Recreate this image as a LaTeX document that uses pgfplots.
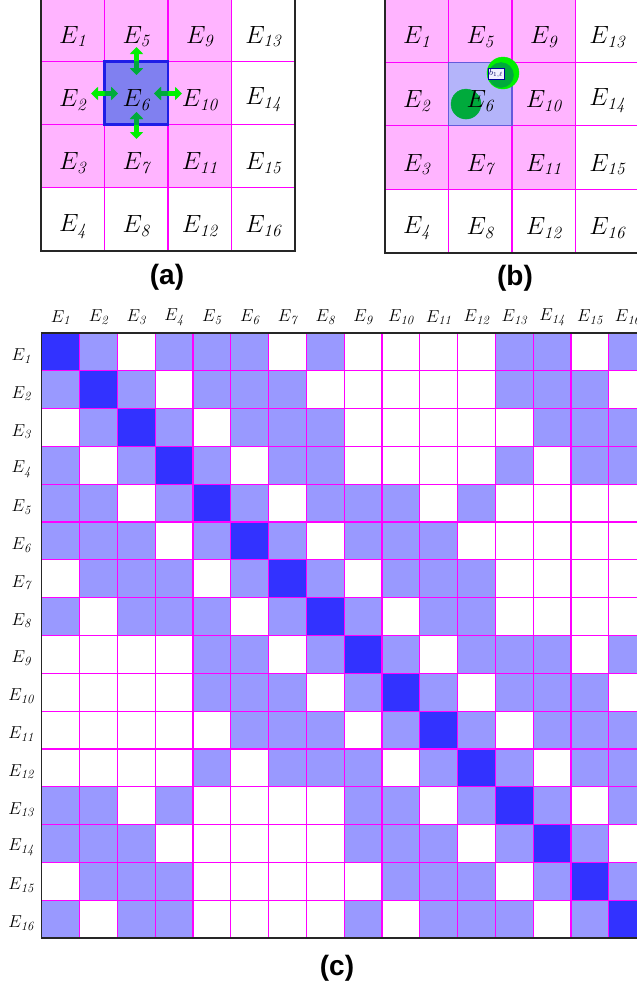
\documentclass[border=0pt]{standalone}
\usepackage{pgfplots}
\pgfplotsset{compat=1.18}
\usepackage{fontspec}
\newfontfamily\labfont{Liberation Sans}
\usetikzlibrary{arrows.meta}
\definecolor{gridm}{RGB}{255,0,255}
\definecolor{aborder}{RGB}{30,30,230}
\definecolor{bborder}{RGB}{100,90,220}
\definecolor{bgreen}{RGB}{0,240,0}
\definecolor{dgreen}{RGB}{0,170,60}
\newcommand{\cellE}[3]{\node[font=\fontsize{24.5}{27}\selectfont, yshift=-7pt] at (axis cs:#1,#2) {$E_{\mathit{#3}}$};}
\newcommand{\allcells}{%
\cellE{1}{1}{1}\cellE{1}{2}{2}\cellE{1}{3}{3}\cellE{1}{4}{4}%
\cellE{2}{1}{5}\cellE{2}{2}{6}\cellE{2}{3}{7}\cellE{2}{4}{8}%
\cellE{3}{1}{9}\cellE{3}{2}{10}\cellE{3}{3}{11}\cellE{3}{4}{12}%
\cellE{4}{1}{13}\cellE{4}{2}{14}\cellE{4}{3}{15}\cellE{4}{4}{16}}
\pgfplotsset{
  smallgrid/.style={
    anchor=south west, scale only axis, width=254pt, height=254pt,
    xmin=0.5, xmax=4.5, ymin=0.5, ymax=4.5, y dir=reverse,
    xtick={1.5,2.5,3.5}, ytick={1.5,2.5,3.5},
    xticklabels={}, yticklabels={},
    grid=major, major grid style={gridm, line width=1.1pt},
    major tick length=0pt, axis on top,
    axis line style={black!85, line width=1.6pt},
    point meta min=0, point meta max=2, clip=false},
  overlay/.style={
    anchor=south west, scale only axis, width=254pt, height=254pt,
    xmin=0.5, xmax=4.5, ymin=0.5, ymax=4.5, y dir=reverse, hide axis, clip=false}
}
\begin{document}
\begin{tikzpicture}
\path[use as bounding box] (0pt,0pt) rectangle (637pt,-996pt);
\clip (0pt,0pt) rectangle (637pt,-996pt);
\fill[white] (0pt,0pt) rectangle (637pt,-996pt);

% ---------------- panel (a)
\begin{axis}[smallgrid, at={(41pt,-251pt)}, height=253pt,
  colormap={pa}{rgb255=(255,255,255) rgb255=(255,180,255) rgb255=(128,128,240)}]
\addplot[matrix plot, mesh/cols=4, point meta=explicit] coordinates {
(1,1)[1] (2,1)[1] (3,1)[1] (4,1)[0]
(1,2)[1] (2,2)[2] (3,2)[1] (4,2)[0]
(1,3)[1] (2,3)[1] (3,3)[1] (4,3)[0]
(1,4)[0] (2,4)[0] (3,4)[0] (4,4)[0]
};
\coordinate (a6sw) at (axis cs:1.5,2.5);
\coordinate (a6ne) at (axis cs:2.5,1.5);
\end{axis}
\draw[aborder, line width=2.8pt] (a6sw) rectangle (a6ne);
\begin{scope}[line width=4.5pt, {Triangle[width=13pt,length=7pt]}-{Triangle[width=13pt,length=7pt]}]
\draw[bgreen] (136.5pt,-47pt) -- (136.5pt,-75pt);
\draw[bgreen] (91pt,-93.5pt) -- (118pt,-93.5pt);
\draw[bgreen] (154pt,-93.5pt) -- (182pt,-93.5pt);
\draw[bgreen] (136.5pt,-112pt) -- (136.5pt,-139pt);
\begin{scope}
\clip (a6sw) rectangle (a6ne);
\draw[dgreen] (136.5pt,-47pt) -- (136.5pt,-75pt);
\draw[dgreen] (91pt,-93.5pt) -- (118pt,-93.5pt);
\draw[dgreen] (154pt,-93.5pt) -- (182pt,-93.5pt);
\draw[dgreen] (136.5pt,-112pt) -- (136.5pt,-139pt);
\end{scope}
\end{scope}
\begin{axis}[overlay, at={(41pt,-251pt)}, height=253pt]
\allcells
\end{axis}

% ---------------- panel (b)
\begin{axis}[smallgrid, at={(385pt,-253pt)}, height=254.5pt,
  colormap={pb}{rgb255=(255,255,255) rgb255=(255,180,255) rgb255=(180,180,250)}]
\addplot[matrix plot, mesh/cols=4, point meta=explicit] coordinates {
(1,1)[1] (2,1)[1] (3,1)[1] (4,1)[0]
(1,2)[1] (2,2)[2] (3,2)[1] (4,2)[0]
(1,3)[1] (2,3)[1] (3,3)[1] (4,3)[0]
(1,4)[0] (2,4)[0] (3,4)[0] (4,4)[0]
};
\coordinate (b6sw) at (axis cs:1.5,2.5);
\coordinate (b6ne) at (axis cs:2.5,1.5);
\end{axis}
\draw[bborder, line width=1.2pt] (b6sw) rectangle (b6ne);
\begin{axis}[overlay, at={(385pt,-253pt)}, height=254.5pt]
\addplot[only marks, mark=*, mark size=15pt, color=dgreen] coordinates {(1.776,2.159)};
\addplot[only marks, mark=*, mark size=16pt, color=bgreen] coordinates {(2.358,1.671)};
\addplot[only marks, mark=*, mark size=12.5pt, color=dgreen] coordinates {(2.327,1.703)};
\end{axis}
\begin{axis}[overlay, at={(385pt,-253pt)}, height=254.5pt]
\allcells
\node[draw=blue!60!black, fill=blue!6, inner sep=1.2pt, line width=0.6pt,
  font=\fontsize{9}{10}\selectfont, text=blue!40!black] at (axis cs:2.248,1.68) {$b_{1,\ell}$};
\end{axis}

% ---------------- panel (c)
\begin{axis}[at={(41.7pt,-938pt)}, anchor=south west, scale only axis,
  width=605pt, height=605pt,
  xmin=0.5, xmax=16.5, ymin=0.5, ymax=16.5, y dir=reverse,
  xtick={1.5,2.5,...,15.5}, ytick={1.5,2.5,...,15.5},
  xticklabels={}, yticklabels={},
  grid=major, major grid style={gridm, line width=1.2pt},
  major tick length=0pt, axis on top,
  axis line style={black!85, line width=1.5pt},
  colormap={pc}{rgb255=(255,255,255) rgb255=(153,153,255) rgb255=(50,50,255)},
  point meta min=0, point meta max=2, clip=false]
\addplot[matrix plot, mesh/cols=16, point meta=explicit] coordinates {
(1,1)[2] (2,1)[1] (3,1)[0] (4,1)[1] (5,1)[1] (6,1)[1] (7,1)[0] (8,1)[1] (9,1)[0] (10,1)[0] (11,1)[0] (12,1)[0] (13,1)[1] (14,1)[1] (15,1)[0] (16,1)[1]
(1,2)[1] (2,2)[2] (3,2)[1] (4,2)[0] (5,2)[1] (6,2)[1] (7,2)[1] (8,2)[0] (9,2)[0] (10,2)[0] (11,2)[0] (12,2)[0] (13,2)[1] (14,2)[1] (15,2)[1] (16,2)[0]
(1,3)[0] (2,3)[1] (3,3)[2] (4,3)[1] (5,3)[0] (6,3)[1] (7,3)[1] (8,3)[1] (9,3)[0] (10,3)[0] (11,3)[0] (12,3)[0] (13,3)[0] (14,3)[1] (15,3)[1] (16,3)[1]
(1,4)[1] (2,4)[0] (3,4)[1] (4,4)[2] (5,4)[1] (6,4)[0] (7,4)[1] (8,4)[1] (9,4)[0] (10,4)[0] (11,4)[0] (12,4)[0] (13,4)[1] (14,4)[0] (15,4)[1] (16,4)[1]
(1,5)[1] (2,5)[1] (3,5)[0] (4,5)[1] (5,5)[2] (6,5)[1] (7,5)[0] (8,5)[1] (9,5)[1] (10,5)[1] (11,5)[0] (12,5)[1] (13,5)[0] (14,5)[0] (15,5)[0] (16,5)[0]
(1,6)[1] (2,6)[1] (3,6)[1] (4,6)[0] (5,6)[1] (6,6)[2] (7,6)[1] (8,6)[0] (9,6)[1] (10,6)[1] (11,6)[1] (12,6)[0] (13,6)[0] (14,6)[0] (15,6)[0] (16,6)[0]
(1,7)[0] (2,7)[1] (3,7)[1] (4,7)[1] (5,7)[0] (6,7)[1] (7,7)[2] (8,7)[1] (9,7)[0] (10,7)[1] (11,7)[1] (12,7)[1] (13,7)[0] (14,7)[0] (15,7)[0] (16,7)[0]
(1,8)[1] (2,8)[0] (3,8)[1] (4,8)[1] (5,8)[1] (6,8)[0] (7,8)[1] (8,8)[2] (9,8)[1] (10,8)[0] (11,8)[1] (12,8)[1] (13,8)[0] (14,8)[0] (15,8)[0] (16,8)[0]
(1,9)[0] (2,9)[0] (3,9)[0] (4,9)[0] (5,9)[1] (6,9)[1] (7,9)[0] (8,9)[1] (9,9)[2] (10,9)[1] (11,9)[0] (12,9)[1] (13,9)[1] (14,9)[1] (15,9)[0] (16,9)[1]
(1,10)[0] (2,10)[0] (3,10)[0] (4,10)[0] (5,10)[1] (6,10)[1] (7,10)[1] (8,10)[0] (9,10)[1] (10,10)[2] (11,10)[1] (12,10)[0] (13,10)[1] (14,10)[1] (15,10)[1] (16,10)[0]
(1,11)[0] (2,11)[0] (3,11)[0] (4,11)[0] (5,11)[0] (6,11)[1] (7,11)[1] (8,11)[1] (9,11)[0] (10,11)[1] (11,11)[2] (12,11)[1] (13,11)[0] (14,11)[1] (15,11)[1] (16,11)[1]
(1,12)[0] (2,12)[0] (3,12)[0] (4,12)[0] (5,12)[1] (6,12)[0] (7,12)[1] (8,12)[1] (9,12)[1] (10,12)[0] (11,12)[1] (12,12)[2] (13,12)[1] (14,12)[0] (15,12)[1] (16,12)[1]
(1,13)[1] (2,13)[1] (3,13)[0] (4,13)[1] (5,13)[0] (6,13)[0] (7,13)[0] (8,13)[0] (9,13)[1] (10,13)[1] (11,13)[0] (12,13)[1] (13,13)[2] (14,13)[1] (15,13)[0] (16,13)[1]
(1,14)[1] (2,14)[1] (3,14)[1] (4,14)[0] (5,14)[0] (6,14)[0] (7,14)[0] (8,14)[0] (9,14)[1] (10,14)[1] (11,14)[1] (12,14)[0] (13,14)[1] (14,14)[2] (15,14)[1] (16,14)[0]
(1,15)[0] (2,15)[1] (3,15)[1] (4,15)[1] (5,15)[0] (6,15)[0] (7,15)[0] (8,15)[0] (9,15)[0] (10,15)[1] (11,15)[1] (12,15)[1] (13,15)[0] (14,15)[1] (15,15)[2] (16,15)[1]
(1,16)[1] (2,16)[0] (3,16)[1] (4,16)[1] (5,16)[0] (6,16)[0] (7,16)[0] (8,16)[0] (9,16)[1] (10,16)[0] (11,16)[1] (12,16)[1] (13,16)[1] (14,16)[0] (15,16)[1] (16,16)[2]
};
\pgfplotsinvokeforeach{1,...,16}{
  \node[font=\fontsize{18}{20}\selectfont] at (axis cs:#1,0.5) [yshift=15.5pt] {$E_{\mathit{#1}}$};
  \node[font=\fontsize{18}{20}\selectfont] at (axis cs:0.5,#1) [xshift=-20.5pt, yshift=-4pt] {$E_{\mathit{#1}}$};
}
\end{axis}

% ---------------- panel labels
\node[font=\labfont\bfseries\fontsize{28}{30}\selectfont] at (167pt,-277pt) {(a)};
\node[font=\labfont\bfseries\fontsize{28}{30}\selectfont] at (515pt,-278pt) {(b)};
\node[font=\labfont\bfseries\fontsize{28}{30}\selectfont] at (337pt,-968pt) {(c)};
\end{tikzpicture}
\end{document}
